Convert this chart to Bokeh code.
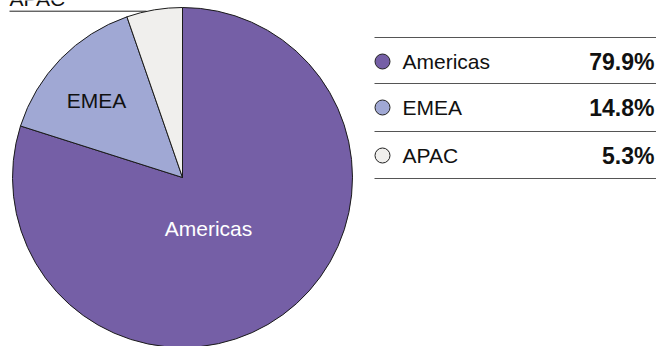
import numpy as np
from bokeh.plotting import figure
from bokeh.models import Range1d, ColumnDataSource
from bokeh.core.properties import value
from bokeh.embed import file_html
from bokeh.resources import INLINE

regions = ["Americas", "EMEA", "APAC"]
shares = [79.9, 14.8, 5.3]
colors = ["#755fa6", "#a0a8d4", "#f0efed"]
share_labels = ["79.9%", "14.8%", "5.3%"]

W, H = 656, 346
p = figure(width=W, height=H, output_backend="svg", toolbar_location=None,
           x_range=Range1d(0, W), y_range=Range1d(0, H), min_border=0)
p.axis.visible = False
p.grid.visible = False
p.outline_line_color = None
p.background_fill_color = None
p.border_fill_color = "white"

def Y(py):
    return H - py

cx, cy, r = 182, Y(177), 170
frac = np.array(shares) / sum(shares)
cum = np.concatenate([[0], np.cumsum(frac)])
start = np.pi / 2 - cum[:-1] * 2 * np.pi
end = np.pi / 2 - cum[1:] * 2 * np.pi
src = ColumnDataSource(dict(start=start, end=end, color=colors))
p.wedge(x=cx, y=cy, radius=r, start_angle="start", end_angle="end",
        direction="clock", fill_color="color", line_color="#1a1a1a",
        line_width=1, source=src)

font = value("Liberation Sans")
# in-slice labels
p.text(x=[208], y=[Y(228)], text=[regions[0]], text_color="white",
       text_font=font, text_font_size="21px", text_align="center",
       text_baseline="middle")
p.text(x=[96], y=[Y(100)], text=[regions[1]], text_color="#111111",
       text_font=font, text_font_size="21px", text_align="center",
       text_baseline="middle")
# APAC outside label with leader (partly above the top edge, as in the reference)
p.text(x=[9], y=[Y(-2)], text=[regions[2]], text_color="#111111",
       text_font=font, text_font_size="21px", text_align="left",
       text_baseline="alphabetic")
p.line(x=[9, 146], y=[Y(10.7), Y(10.7)], line_color="#222222", line_width=1)

# legend table
row_y = [61, 107, 155]
sep_y = [37, 83, 131, 178]
for sy in sep_y:
    p.line(x=[374, 656], y=[Y(sy), Y(sy)], line_color="#555555", line_width=1)
p.scatter(x=[382] * 3, y=[Y(v) for v in row_y], size=15, marker="circle",
          fill_color=colors, line_color="#222222", line_width=1)
p.text(x=[402] * 3, y=[Y(v) for v in row_y], text=regions, text_color="#111111",
       text_font=font, text_font_size="21px", text_baseline="middle")
p.text(x=[654] * 3, y=[Y(v) for v in row_y], text=share_labels,
       text_color="#111111", text_font=font, text_font_size="23px",
       text_font_style="bold", text_align="right", text_baseline="middle")

open("out.html", "w").write(file_html(p, INLINE))
